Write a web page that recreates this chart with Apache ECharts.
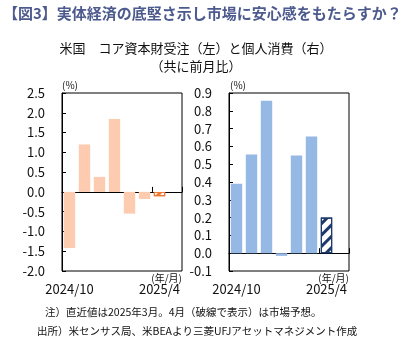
<!DOCTYPE html>
<html><head><meta charset="utf-8">
<script src="https://cdn.jsdelivr.net/npm/echarts@6/dist/echarts.min.js"></script>
<style>html,body{margin:0;padding:0;background:#fff;}#c{width:406px;height:338px;}</style>
</head><body><div id="c"></div>
<script>
var categories = ['2024/10','2024/11','2024/12','2025/1','2025/2','2025/3','2025/4',''];
var capexOrders = [-1.42, 1.20, 0.38, 1.84, -0.55, -0.18, -0.11, null];
var consumption = [0.39, 0.555, 0.857, -0.015, 0.549, 0.655, 0.20, null];
var forecast = [false, false, false, false, false, false, true, false];
var leftTicks = {min: -2, max: 2.5, interval: 0.5};
var rightTicks = {min: -0.1, max: 0.9, interval: 0.1};

var FONT = "'Noto Sans CJK JP', 'Noto Sans', sans-serif";
function items(vals, color, fcColor) {
  return vals.map(function (v, i) {
    if (v === null) return null;
    if (forecast[i]) {
      return {value: v, itemStyle: {color: '#fff', borderColor: fcColor, borderWidth: 1.2,
        decal: {symbol: 'rect', symbolSize: 1, dashArrayX: [1, 0], dashArrayY: [3, 5], rotation: -Math.PI / 4, color: fcColor}}};
    }
    return {value: v, itemStyle: {color: color}};
  });
}
function xLabelAxis(gi) {
  return {type: 'category', gridIndex: gi, data: categories, position: 'bottom',
    axisLine: {show: false, onZero: false}, axisTick: {show: false},
    axisLabel: {interval: 5, color: '#111', fontSize: 13, fontFamily: FONT, margin: 12}};
}
function xZeroAxis(gi) {
  return {type: 'category', gridIndex: gi, data: categories, position: 'top',
    axisLine: {show: true, onZero: true, lineStyle: {color: '#000', width: 1}},
    axisTick: {show: true, interval: 5, length: 5, lineStyle: {color: '#000'}},
    axisLabel: {show: false}};
}
function yAxis(gi, t) {
  return {type: 'value', gridIndex: gi, min: t.min, max: t.max, interval: t.interval,
    splitLine: {show: false}, axisLine: {show: true, lineStyle: {color: '#000'}},
    axisTick: {show: true, inside: true, length: 4, lineStyle: {color: '#000'}},
    axisLabel: {color: '#111', fontSize: 13, fontFamily: FONT, margin: 17,
      formatter: function (v) { return (Math.round(v * 10) / 10).toFixed(1); }}};
}
var chart = echarts.init(document.getElementById('c'));
chart.setOption({
  animation: false,
  grid: [
    {left: 62, width: 120, top: 93, height: 178, show: true, borderColor: '#000', borderWidth: 1, backgroundColor: 'transparent'},
    {left: 229, width: 120, top: 93, height: 178, show: true, borderColor: '#000', borderWidth: 1, backgroundColor: 'transparent'}
  ],
  xAxis: [xLabelAxis(0), xZeroAxis(0), xLabelAxis(1), xZeroAxis(1)],
  yAxis: [yAxis(0, leftTicks), yAxis(1, rightTicks)],
  series: [
    {type: 'bar', xAxisIndex: 0, yAxisIndex: 0, data: items(capexOrders, '#FDCBB0', '#F07A35'), barCategoryGap: '24%'},
    {type: 'bar', xAxisIndex: 2, yAxisIndex: 1, data: items(consumption, '#95B8E4', '#1B3A6B'), barCategoryGap: '24%'}
  ],
  graphic: [
    {type: 'text', left: 3, top: 6, style: {text: '【図3】実体経済の底堅さ示し市場に安心感をもたらすか？', fill: '#4D5A8E', font: 'bold 15px ' + FONT}},
    {type: 'text', x: 196, y: 48, style: {text: '米国　コア資本財受注（左）と個人消費（右）', fill: '#111', font: '13px ' + FONT, textAlign: 'center', textVerticalAlign: 'middle'}},
    {type: 'text', x: 196, y: 66, style: {text: '（共に前月比）', fill: '#111', font: '13px ' + FONT, textAlign: 'center', textVerticalAlign: 'middle'}},
    {type: 'text', x: 62, y: 85, style: {text: '(%)', fill: '#111', font: '10px ' + FONT, textAlign: 'left', textVerticalAlign: 'middle'}},
    {type: 'text', x: 230, y: 85, style: {text: '(%)', fill: '#111', font: '10px ' + FONT, textAlign: 'left', textVerticalAlign: 'middle'}},
    {type: 'text', x: 182, y: 278, style: {text: '(年/月)', fill: '#111', font: '10px ' + FONT, textAlign: 'right', textVerticalAlign: 'middle'}},
    {type: 'text', x: 349, y: 278, style: {text: '(年/月)', fill: '#111', font: '10px ' + FONT, textAlign: 'right', textVerticalAlign: 'middle'}},
    {type: 'text', x: 45, y: 312, style: {text: '注）直近値は2025年3月。4月（破線で表示）は市場予想。', fill: '#111', font: '10.5px ' + FONT, textVerticalAlign: 'middle'}},
    {type: 'text', x: 37, y: 331, style: {text: '出所）米センサス局、米BEAより三菱UFJアセットマネジメント作成', fill: '#111', font: '10.5px ' + FONT, textVerticalAlign: 'middle'}}
  ]
});
</script></body></html>
